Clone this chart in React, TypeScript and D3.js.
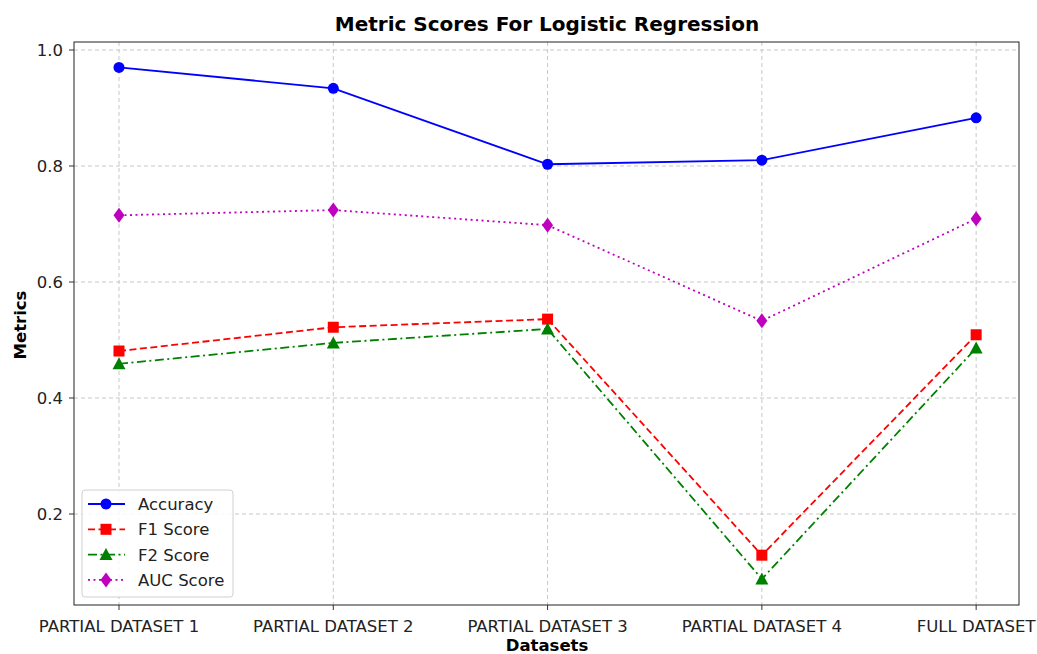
import React from "react";
import * as d3 from "d3";

const categories = ["PARTIAL DATASET 1", "PARTIAL DATASET 2", "PARTIAL DATASET 3", "PARTIAL DATASET 4", "FULL DATASET"];
const accuracy = [0.970, 0.934, 0.803, 0.810, 0.883];
const f1 = [0.481, 0.522, 0.536, 0.129, 0.509];
const f2 = [0.459, 0.495, 0.519, 0.088, 0.486];
const auc = [0.715, 0.724, 0.698, 0.533, 0.709];
const yTicks = [0.2, 0.4, 0.6, 0.8, 1.0];

const series = [
  { name: "Accuracy", values: accuracy, color: "#0000ff", dash: "", marker: "circle" },
  { name: "F1 Score", values: f1, color: "#ff0000", dash: "7,3.5", marker: "square" },
  { name: "F2 Score", values: f2, color: "#008000", dash: "9,3.5,2,3.5", marker: "triangle" },
  { name: "AUC Score", values: auc, color: "#bf00bf", dash: "2,3.5", marker: "diamond" },
];

const W = 1037, H = 654;
const L = 74, R = 1019, T = 42, B = 605;
const font = "DejaVu Sans, sans-serif";

function Marker({ type, x, y, color }: { type: string; x: number; y: number; color: string }) {
  if (type === "circle") return <circle cx={x} cy={y} r={5.5} fill={color} />;
  if (type === "square") return <rect x={x - 5.5} y={y - 5.5} width={11} height={11} fill={color} />;
  if (type === "triangle") return <path d={`M${x},${y - 6.5}L${x + 6.5},${y + 5.5}L${x - 6.5},${y + 5.5}Z`} fill={color} />;
  return <path d={`M${x},${y - 7.5}L${x + 5.5},${y}L${x},${y + 7.5}L${x - 5.5},${y}Z`} fill={color} />;
}

export default function App() {
  const x = d3.scaleLinear().domain([-0.21, 4.2]).range([L, R]);
  const y = d3.scaleLinear().domain([0, 1]).range([630, 50]);
  const line = d3.line<number>().x((_, i) => x(i)).y((d) => y(d));
  return (
    <svg width={W} height={H} style={{ position: "absolute", left: 0, top: 0, background: "#fff" }} fontFamily={font}>
      <text x={547} y={31} textAnchor="middle" fontSize={20} fontWeight="bold">Metric Scores For Logistic Regression</text>
      {categories.map((c, i) => (
        <g key={c}>
          <line x1={x(i)} x2={x(i)} y1={T} y2={B} stroke="#c8c8c8" strokeDasharray="4,3" />
          <line x1={x(i)} x2={x(i)} y1={B} y2={B + 5} stroke="#333" />
          <text x={x(i)} y={B + 27} textAnchor="middle" fontSize={16.5} fill="#222">{c}</text>
        </g>
      ))}
      {yTicks.map((t) => (
        <g key={t}>
          <line x1={L} x2={R} y1={y(t)} y2={y(t)} stroke="#c8c8c8" strokeDasharray="4,3" />
          <line x1={L - 5} x2={L} y1={y(t)} y2={y(t)} stroke="#333" />
          <text x={L - 11} y={y(t) + 6} textAnchor="end" fontSize={16.5} fill="#222">{t.toFixed(1)}</text>
        </g>
      ))}
      <rect x={L} y={T} width={R - L} height={B - T} fill="none" stroke="#222" strokeWidth={1} />
      {series.map((s) => (
        <g key={s.name}>
          <path d={line(s.values) || ""} fill="none" stroke={s.color} strokeWidth={1.8} strokeDasharray={s.dash} />
          {s.values.map((v, i) => (
            <Marker key={i} type={s.marker} x={x(i)} y={y(v)} color={s.color} />
          ))}
        </g>
      ))}
      <text x={547} y={651} textAnchor="middle" fontSize={16.5} fontWeight="bold">Datasets</text>
      <text transform="translate(26,325) rotate(-90)" textAnchor="middle" fontSize={16.5} fontWeight="bold">Metrics</text>
      <g>
        <rect x={82} y={490} width={151} height={107} rx={3} fill="#fff" fillOpacity={0.85} stroke="#d0d0d0" />
        {series.map((s, i) => {
          const yy = 504 + i * 25.3;
          return (
            <g key={s.name}>
              <line x1={88} x2={125} y1={yy} y2={yy} stroke={s.color} strokeWidth={1.8} strokeDasharray={s.dash} />
              <Marker type={s.marker} x={106} y={yy} color={s.color} />
              <text x={138} y={yy + 6} fontSize={16.5} fill="#222">{s.name}</text>
            </g>
          );
        })}
      </g>
    </svg>
  );
}
